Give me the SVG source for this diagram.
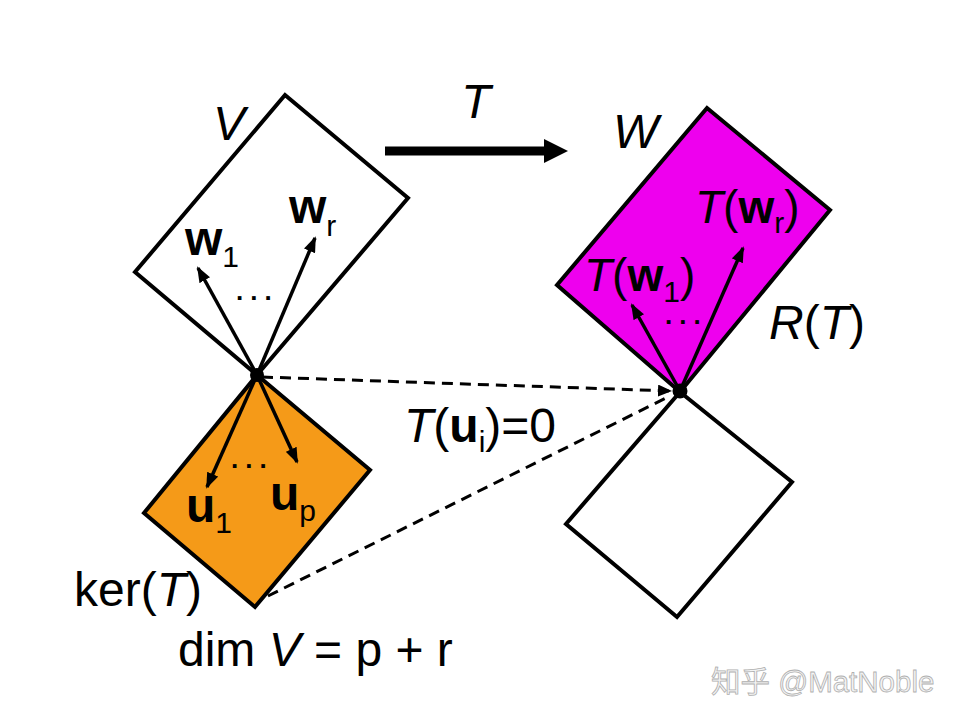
<svg xmlns="http://www.w3.org/2000/svg" width="960" height="720" viewBox="0 0 960 720">
<style>
.q{stroke:#000;stroke-width:4;stroke-linejoin:miter}
.v{stroke:#000;stroke-width:3.5;fill:none}
.d{stroke:#000;stroke-width:3;fill:none;stroke-dasharray:11 7}
.t{font-family:"Liberation Sans",Arial,sans-serif;font-size:48px;fill:#000}
.m{font-size:46px}
.i{font-style:italic}
.b{font-weight:bold}
.s{font-size:30px;font-weight:normal}
.dots{font-family:"Liberation Sans",Arial,sans-serif;font-size:26px;font-weight:bold;letter-spacing:7px;fill:#000}
.wm{font-family:"Liberation Sans","Noto Sans CJK SC",sans-serif;font-size:29.5px;fill:#f4f4f4;stroke:#b0b0b0;stroke-width:0.8}
</style>
<defs>
<marker id="ah" markerUnits="userSpaceOnUse" markerWidth="16" markerHeight="12" refX="14" refY="6" orient="auto"><path d="M0,0 L16,6 L0,12 Z" fill="#000"/></marker>
<marker id="dh" markerUnits="userSpaceOnUse" markerWidth="14" markerHeight="12" refX="13" refY="6" orient="auto"><path d="M0,0 L14,6 L0,12 Z" fill="#000"/></marker>
</defs>
<rect width="960" height="720" fill="#fff"/>
<g id="V">
<polygon class="q" fill="#fff" points="285,95 408,198 257,375 135,272"/>
<text class="t i" x="213" y="140">V</text>
</g>
<g id="ker">
<polygon class="q" fill="#F59A18" points="257,375 370,470 255,607 144,513"/>
<text class="t" x="74" y="606">ker(<tspan class="i">T</tspan>)</text>
</g>
<g id="W">
<polygon class="q" fill="#EE00EE" points="707,108 830,210 680,392 557,285"/>
<text class="t i" x="613" y="148">W</text>
<text class="t" x="769" y="339"><tspan class="i">R</tspan>(<tspan class="i">T</tspan>)</text>
</g>
<g id="Wlow">
<polygon class="q" fill="#fff" points="680,392 792,482 677,617 566,524"/>
</g>
<g id="connectors">
<line x1="385" y1="151" x2="546" y2="151" stroke="#000" stroke-width="9"/>
<polygon points="544,139 568,151 544,163" fill="#000"/>
<line class="v" x1="257" y1="375" x2="198" y2="268" marker-end="url(#ah)"/>
<line class="v" x1="257" y1="375" x2="315" y2="238" marker-end="url(#ah)"/>
<line class="v" x1="257" y1="375" x2="207" y2="487" marker-end="url(#ah)"/>
<line class="v" x1="257" y1="375" x2="297" y2="462" marker-end="url(#ah)"/>
<line class="v" x1="680" y1="391" x2="632" y2="305" marker-end="url(#ah)"/>
<line class="v" x1="680" y1="391" x2="743" y2="248" marker-end="url(#ah)"/>
<line class="d" x1="262" y1="377" x2="671" y2="391" marker-end="url(#dh)"/>
<line class="d" x1="268" y1="596" x2="668" y2="397"/>
<circle cx="257" cy="375" r="7" fill="#000"/>
<circle cx="680" cy="391" r="7.5" fill="#000"/>
</g>
<g id="labels">
<text class="t i" x="476" y="118" text-anchor="middle">T</text>
<text class="t" x="185" y="255"><tspan class="b">w</tspan><tspan class="s" dy="12">1</tspan></text>
<text class="t" x="289" y="223"><tspan class="b">w</tspan><tspan class="s" dy="13">r</tspan></text>
<text class="dots" x="236" y="300">...</text>
<text class="dots" x="231" y="468">...</text>
<text class="t" x="186" y="522"><tspan class="b">u</tspan><tspan class="s" dy="11">1</tspan></text>
<text class="t" x="270" y="510"><tspan class="b">u</tspan><tspan class="s" dy="11">p</tspan></text>
<text class="t m" x="584" y="291"><tspan class="i">T</tspan>(<tspan class="b">w</tspan><tspan class="s" dy="11">1</tspan><tspan dy="-11">)</tspan></text>
<text class="t m" x="695" y="223"><tspan class="i">T</tspan>(<tspan class="b">w</tspan><tspan class="s" dy="10">r</tspan><tspan dy="-10">)</tspan></text>
<text class="dots" x="665" y="324">...</text>
<text class="t" x="404" y="442"><tspan class="i">T</tspan>(<tspan class="b">u</tspan><tspan class="s" dy="10">i</tspan><tspan dy="-10">)=0</tspan></text>
<text class="t" x="178" y="666">dim <tspan class="i">V</tspan> = p + r</text>
<text class="wm" x="711" y="692">知乎 @MatNoble</text>
</g>
</svg>
